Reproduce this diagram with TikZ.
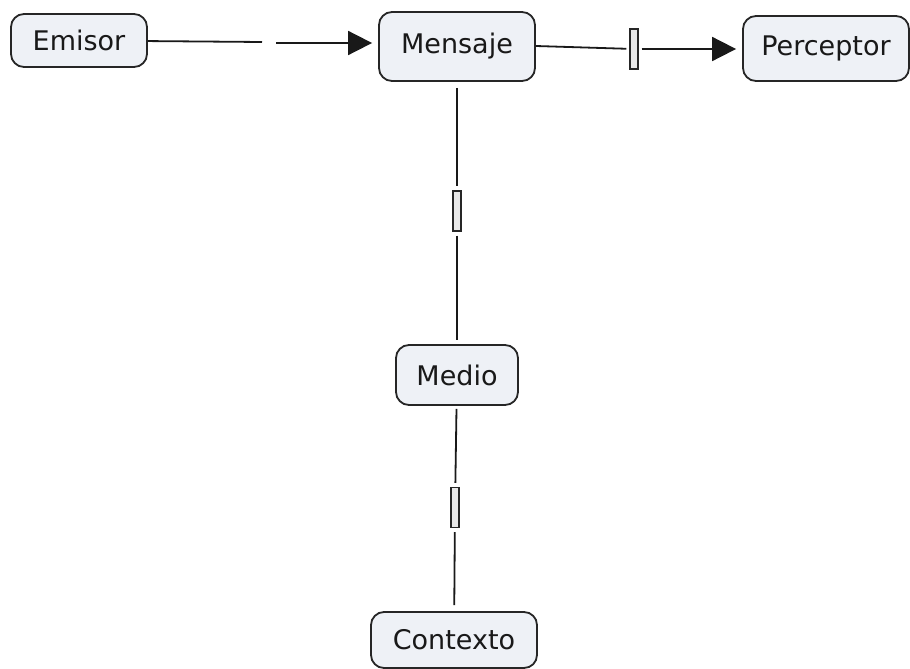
\documentclass[tikz,border=0pt]{standalone}
\usepackage{fontspec}
\newfontfamily\vfont{DejaVu Sans}
\usetikzlibrary{arrows.meta}
\definecolor{boxfill}{HTML}{EEF1F6}
\definecolor{lblfill}{HTML}{E8E8E8}
\tikzset{
  concept/.style={draw=black!85, line width=1.8pt, fill=boxfill, rounded corners=13pt,
    font=\vfont\fontsize{27}{32}\selectfont, inner sep=0pt, text=black!90},
  linklbl/.style={draw=black!85, line width=1.3pt, fill=lblfill, inner sep=0pt,
    minimum width=8pt, minimum height=40pt},
  conn/.style={line width=1.8pt, draw=black!90},
  tipconn/.style={conn, -{Triangle[length=24pt,width=24pt]}}
}
\begin{document}
\begin{tikzpicture}[x=1pt,y=-1pt]
\useasboundingbox (0,0) rectangle (910,669);
\node[concept, minimum width=136pt, minimum height=53pt] (emisor) at (79,40.5) {Emisor};
\node[concept, minimum width=156pt, minimum height=69pt] (mensaje) at (457,46.5) {Mensaje};
\node[concept, minimum width=166pt, minimum height=65pt] (perceptor) at (826,48.5) {Perceptor};
\node[concept, minimum width=122pt, minimum height=60pt] (medio) at (457,375) {Medio};
\node[concept, minimum width=166pt, minimum height=56pt] (contexto) at (454,640) {Contexto};
\node[linklbl] (l1) at (634,49) {};
\node[linklbl] (l2) at (457,211) {};
\node[linklbl] (l3) at (455,507.5) {};
\coordinate (g1) at (262,42);
\coordinate (g2) at (276,43);
\draw[conn] (emisor) -- (g1);
\draw[tipconn, shorten >=6pt] (g2) -- (mensaje.west |- g2);
\draw[conn, shorten >=3pt] (mensaje.east |- 0,46) -- (l1);
\draw[tipconn, shorten <=3pt, shorten >=6pt] (l1) -- (perceptor.west |- l1);
\draw[conn, shorten <=6pt, shorten >=4pt] (mensaje) -- (l2);
\draw[conn, shorten <=4pt, shorten >=4pt] (l2) -- (medio);
\draw[conn, shorten <=3pt, shorten >=4pt] (medio) -- (l3);
\draw[conn, shorten <=4pt, shorten >=6pt] (l3) -- (contexto);
\end{tikzpicture}
\end{document}
